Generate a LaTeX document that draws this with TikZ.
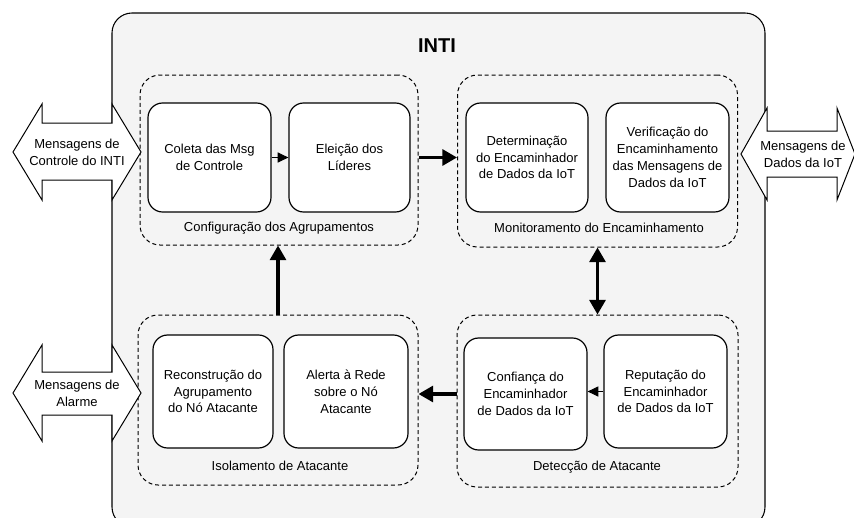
\documentclass[tikz,border=0pt]{standalone}
\usepackage{fontspec}
\setmainfont{Liberation Sans}
\usetikzlibrary{arrows.meta}
\definecolor{framegray}{RGB}{244,244,244}
\begin{document}
\begin{tikzpicture}[x=0.75pt,y=-0.75pt,
  every node/.style={font=\fontsize{9.75}{12.6}\selectfont, align=center},
  stage/.style={draw, line width=0.9pt, fill=white, rounded corners=11pt, inner sep=2pt},
  group/.style={draw, line width=0.75pt, dash pattern=on 3pt off 2.2pt, fill=framegray, rounded corners=15pt},
  flow/.style={line width=2.4pt, -{Triangle[length=11pt,width=12pt]}},
  flowboth/.style={line width=2.4pt, {Triangle[length=11pt,width=12pt]}-{Triangle[length=11pt,width=12pt]}},
  stepflow/.style={line width=0.75pt, -{Triangle[length=8pt,width=7.5pt]}},
  blockarrow/.style={draw, line width=0.75pt, fill=white, line join=miter}
]
\useasboundingbox (0,0) rectangle (854,518);

% outer frame of the INTI system (runs past the lower edge)
\begin{scope}
  \clip (0,0) rectangle (854,518);
  \draw[line width=0.8pt, fill=framegray, rounded corners=15pt] (112,13) rectangle (765,527);
\end{scope}
\node[font=\fontsize{15}{18}\selectfont\bfseries] (title) at (437,46) {INTI};

% four functional groups
\node[group, minimum width=208.5pt, minimum height=127.5pt] (g1) at (279,160) {};
\node[group, minimum width=210pt, minimum height=129pt] (g2) at (597.5,161) {};
\node[group, minimum width=210pt, minimum height=127.5pt] (g3) at (278,400) {};
\node[group, minimum width=210.75pt, minimum height=129pt] (g4) at (597.5,401) {};

\node (l1) at (279,228) {Configuração dos Agrupamentos};
\node (l2) at (599,228) {Monitoramento do Encaminhamento};
\node (l3) at (280,466) {Isolamento de Atacante};
\node (l4) at (597,467) {Detecção de Atacante};

% processing stages
\node[stage, minimum width=92.25pt, minimum height=81.75pt] (coleta) at (209.5,157.5) {Coleta das Msg\\de Controle};
\node[stage, minimum width=90.75pt, minimum height=81.75pt] (eleicao) at (349.5,157.5) {Eleição dos\\Líderes};
\node[stage, minimum width=91.5pt, minimum height=81.75pt] (determ) at (527,157.5) {Determinação\\do Encaminhador\\de Dados da IoT};
\node[stage, minimum width=92.25pt, minimum height=81.75pt] (verif) at (667.5,157.5) {Verificação do\\Encaminhamento\\das Mensagens de\\Dados da IoT};
\node[stage, minimum width=90pt, minimum height=84.75pt] (reconst) at (213,391.5) {Reconstrução do\\Agrupamento\\do Nó Atacante};
\node[stage, minimum width=93pt, minimum height=84.75pt] (alerta) at (346,391.5) {Alerta à Rede\\sobre o Nó\\Atacante};
\node[stage, minimum width=92.25pt, minimum height=84pt] (confianca) at (525.5,394) {Confiança do\\Encaminhador\\de Dados da IoT};
\node[stage, minimum width=92.25pt, minimum height=84.75pt] (reputacao) at (665.5,391.5) {Reputação do\\Encaminhador\\de Dados da IoT};

% connections
\draw[stepflow] (coleta) -- (eleicao);
\draw[stepflow] (reputacao.west) -- (confianca.east |- reputacao.west);
\draw[flow] (g1.east |- eleicao.east) -- (g2.west |- eleicao.east);
\draw[flowboth] (g2.south) -- (g2.south |- g4.north);
\draw[flow] (g3.north) -- (g3.north |- g1.south);
\draw[flow] (g4.west |- confianca.east) -- (g3.east |- confianca.east);

% external message flows
\draw[blockarrow] (13,152) -- (42,104) -- (42,123) -- (112,123) -- (112,104) -- (141,152)
  -- (112,200) -- (112,180) -- (42,180) -- (42,200) -- cycle;
\node (mctrl) at (77,152) {Mensagens de\\Controle do INTI};

\draw[blockarrow] (13,393) -- (42,345) -- (42,372) -- (112,372) -- (112,345) -- (141,393)
  -- (112,441) -- (112,415) -- (42,415) -- (42,441) -- cycle;
\node (malarme) at (77,393) {Mensagens de\\Alarme};

\begin{scope}
  \clip (0,0) rectangle (854,518);
  \draw[blockarrow] (741,154) -- (767,108) -- (767,131) -- (837,131) -- (837,108) -- (855,154)
    -- (837,200) -- (837,177) -- (767,177) -- (767,200) -- cycle;
\end{scope}
\node (mdados) at (803,154) {Mensagens de\\Dados da IoT};
\end{tikzpicture}
\end{document}
